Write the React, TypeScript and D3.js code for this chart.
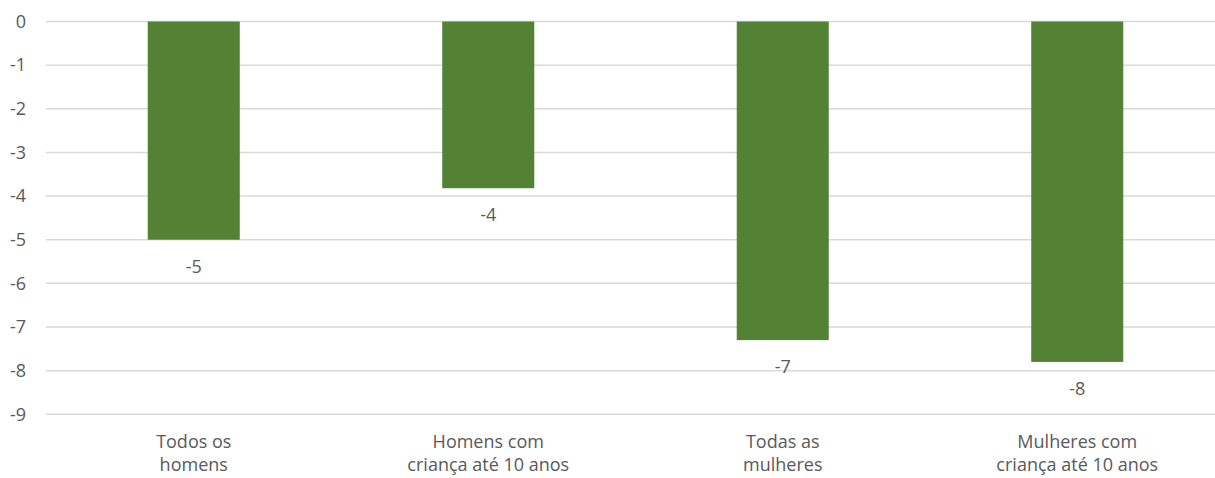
import React from "react";
import * as d3 from "d3";

const categories: string[][] = [
  ["Todos os", "homens"],
  ["Homens com", "criança até 10 anos"],
  ["Todas as", "mulheres"],
  ["Mulheres com", "criança até 10 anos"],
];
const values: number[] = [-5.0, -3.82, -7.3, -7.8];
const yTicks: number[] = [0, -1, -2, -3, -4, -5, -6, -7, -8, -9];

const W = 1215;
const H = 478;
const FONT = "'Open Sans', sans-serif";
const TEXT = "#595959";
const FS = 18;

export default function App() {
  const x = d3
    .scaleBand<number>()
    .domain(d3.range(values.length))
    .range([46.5, 1224.5])
    .paddingInner(0.6875)
    .paddingOuter(0.34375);
  const y = d3.scaleLinear().domain([0, -9]).range([21.5, 414.3]);

  return (
    <svg
      width={W}
      height={H}
      style={{ position: "absolute", left: 0, top: 0, background: "#fff" }}
      fontFamily={FONT}
    >
      {yTicks.map((t) => (
        <g key={t}>
          <line x1={46} x2={W} y1={y(t)} y2={y(t)} stroke="#d9d9d9" strokeWidth={1.5} />
          <text x={26} y={y(t)} dy="0.35em" textAnchor="end" fontSize={FS} fill={TEXT}>
            {String(t)}
          </text>
        </g>
      ))}
      {values.map((v, i) => {
        const x0 = x(i)!;
        const yb = y(v);
        return (
          <g key={i}>
            <rect x={x0} y={y(0)} width={x.bandwidth()} height={yb - y(0)} fill="#548235" />
            <text
              x={x0 + x.bandwidth() / 2}
              y={yb + 33}
              textAnchor="middle"
              fontSize={FS}
              fill={TEXT}
            >
              {String(Math.round(v))}
            </text>
          </g>
        );
      })}
      {categories.map((lines, i) => (
        <text
          key={i}
          x={x(i)! + x.bandwidth() / 2}
          textAnchor="middle"
          fontSize={FS}
          fill={TEXT}
        >
          {lines.map((l, j) => (
            <tspan key={j} x={x(i)! + x.bandwidth() / 2} y={448 + j * 23}>
              {l}
            </tspan>
          ))}
        </text>
      ))}
    </svg>
  );
}
